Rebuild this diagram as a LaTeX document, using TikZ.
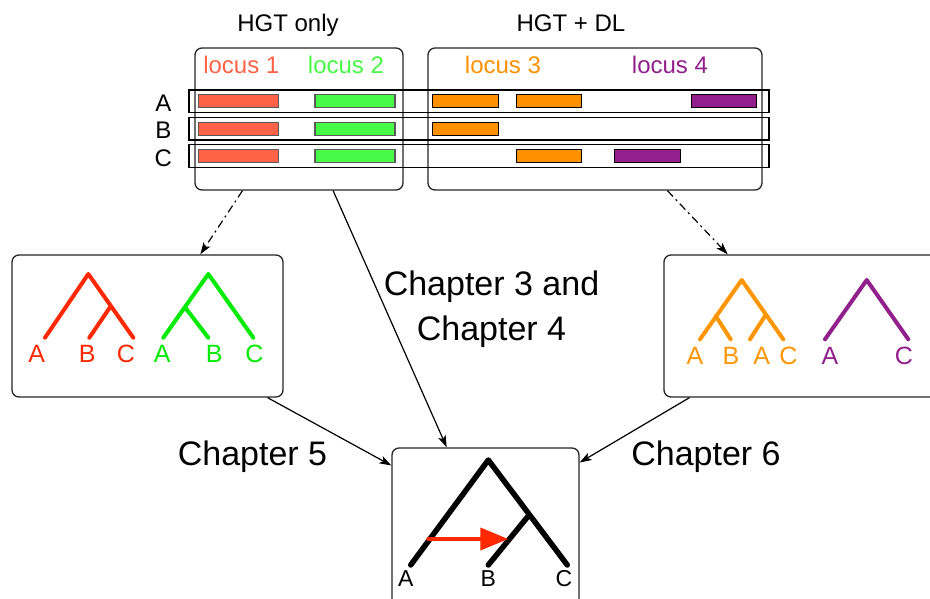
\documentclass[tikz,border=0pt]{standalone}
\usepackage{fontspec}
\setmainfont{Liberation Sans}
\usetikzlibrary{arrows.meta,calc}
\definecolor{locA}{RGB}{255,99,71}
\definecolor{locB}{RGB}{72,250,72}
\definecolor{locC}{RGB}{255,145,0}
\definecolor{locD}{RGB}{146,32,140}
\definecolor{tred}{RGB}{255,40,0}
\definecolor{tgreen}{RGB}{0,235,0}
\definecolor{tor}{RGB}{255,150,0}
\definecolor{tpur}{RGB}{146,32,140}
\tikzset{
  lbl/.style={anchor=base, inner sep=0pt, font=\fontsize{#1}{#1}\selectfont},
  panel/.style={draw=black!85, line width=1.3pt, rounded corners=7pt, inner sep=0pt},
  rowbox/.style={draw=black, line width=1.2pt, minimum width=580pt, minimum height=22.5pt, inner sep=0pt},
  gene/.style={line width=1.3pt, minimum height=13pt, inner sep=0pt},
  treeline/.style={line width=4pt, line cap=round, line join=round},
  conn/.style={line width=1.2pt, -{Stealth[length=12pt,width=8pt,inset=3pt]}},
  dashconn/.style={conn, dash pattern=on 8pt off 4pt on 2pt off 4pt}
}
\begin{document}
\begin{tikzpicture}[x=1pt,y=-1pt]
\clip (0,0) rectangle (930,598);
\fill[white] (0,0) rectangle (930,598);

% top panels
\node[panel, minimum width=208pt, minimum height=142pt] (topL) at (299,119) {};
\node[panel, minimum width=334pt, minimum height=142pt] (topR) at (595,119) {};

\node[lbl=24] (hgt1) at (288,31) {HGT only};
\node[lbl=24] (hgt2) at (571,31) {HGT + DL};

\node[lbl=24, text=locA] (l1) at (241.3,73.3) {locus 1};
\node[lbl=24, text=locB] (l2) at (346,73.3) {locus 2};
\node[lbl=24, text=locC] (l3) at (503,73.3) {locus 3};
\node[lbl=24, text=locD] (l4) at (670,73.3) {locus 4};

% rows
\node[rowbox] (rowA) at (479,101.3) {};
\node[rowbox] (rowB) at (479,128.7) {};
\node[rowbox] (rowC) at (479,156) {};
\node[lbl=24] (labA) at (163.3,111.7) {A};
\node[lbl=24] (labB) at (163.3,138.5) {B};
\node[lbl=24] (labC) at (163.3,166) {C};

% genes
\foreach \y/\n in {101.3/a,128.7/b,156/c}{
  \node[gene, draw=black!65, fill=locA, minimum width=80pt] (r\n) at (238.3,\y) {};
  \node[gene, draw=black!65, fill=locB, minimum width=80pt] (g\n) at (355,\y) {};
}
\node[gene, draw=black, fill=locC, minimum width=66pt] (o1a) at (465.3,101.3) {};
\node[gene, draw=black, fill=locC, minimum width=65pt] (o2a) at (549.2,101.3) {};
\node[gene, draw=black, fill=locD, minimum width=65pt] (p1a) at (724.2,101.3) {};
\node[gene, draw=black, fill=locC, minimum width=66pt] (o1b) at (465.3,128.7) {};
\node[gene, draw=black, fill=locC, minimum width=65pt] (o2c) at (549.2,156) {};
\node[gene, draw=black, fill=locD, minimum width=66pt] (p1c) at (647.2,156) {};

% middle panels
\node[panel, minimum width=271pt, minimum height=142pt] (midL) at (147.5,326) {};
\node[panel, minimum width=281pt, minimum height=142pt] (midR) at (804.5,326) {};
\node[panel, minimum width=187pt, minimum height=162pt] (bot) at (485.5,529) {};

% red tree
\draw[treeline, tred] (45,337.7) -- (88.3,274) -- (133.3,337.7);
\draw[treeline, tred] (89.3,337.7) -- (110,307.3);
\node[lbl=25, text=tred] (rA) at (36.7,362.3) {A};
\node[lbl=25, text=tred] (rB) at (87.3,362.3) {B};
\node[lbl=25, text=tred] (rC) at (126,362.3) {C};
% green tree
\draw[treeline, tgreen] (163.3,337.7) -- (208.3,274) -- (253.3,337.7);
\draw[treeline, tgreen] (208.3,337.7) -- (185,307.3);
\node[lbl=25, text=tgreen] (gA) at (162.3,362.3) {A};
\node[lbl=25, text=tgreen] (gB) at (214.3,362.3) {B};
\node[lbl=25, text=tgreen] (gC) at (254.3,362.3) {C};

% orange tree
\draw[treeline, tor] (700,339.3) -- (741.7,280) -- (783.3,339.3);
\draw[treeline, tor] (730.7,339.3) -- (715.7,316);
\draw[treeline, tor] (750,339.3) -- (765,316);
\node[lbl=25, text=tor] (oA) at (695,364.3) {A};
\node[lbl=25, text=tor] (oB) at (731,364.3) {B};
\node[lbl=25, text=tor] (oA2) at (761.7,364.3) {A};
\node[lbl=25, text=tor] (oC) at (788.3,364.3) {C};
% purple tree
\draw[treeline, tpur] (825,339.3) -- (866.7,280) -- (908.3,339.3);
\node[lbl=25, text=tpur] (pA) at (830,364.3) {A};
\node[lbl=25, text=tpur] (pC) at (904,364.3) {C};

% species tree
\draw[treeline, line width=5.5pt, black] (410.7,565) -- (488.3,460) -- (567.3,565);
\draw[treeline, line width=5.5pt, black] (488.3,565) -- (527.7,516.7);
\draw[tred, line width=4pt, line cap=round, -{Triangle[length=28pt,width=22pt]}] (428.3,539) -- (508.3,539);
\node[lbl=23] (sA) at (405.7,586.7) {A};
\node[lbl=23] (sB) at (488.3,586.7) {B};
\node[lbl=23] (sC) at (564,586.7) {C};

% chapter labels
\node[lbl=34] (ch5) at (252.5,465) {Chapter 5};
\node[lbl=34] (ch6) at (706,465) {Chapter 6};
\node[lbl=34] (ch3) at (491.5,295) {Chapter 3 and};
\node[lbl=34] (ch4) at (491.5,340) {Chapter 4};

% connectors
\draw[dashconn] ($(topL.south west)!0.23!(topL.south east)$) -- ($(midL.north west)!0.694!(midL.north east)$);
\draw[dashconn] ($(topR.south west)!0.716!(topR.south east)$) -- ($(midR.north west)!0.228!(midR.north east)$);
\draw[conn] ($(topL.south west)!0.663!(topL.south east)$) -- ($(bot.north west)!0.294!(bot.north east)$);
\draw[conn] ($(midL.south west)!0.941!(midL.south east)$) -- ($(bot.north west)!0.111!(bot.south west)$);
\draw[conn] ($(midR.south west)!0.0925!(midR.south east)$) -- ($(bot.north east)!0.093!(bot.south east)$);
\end{tikzpicture}
\end{document}
